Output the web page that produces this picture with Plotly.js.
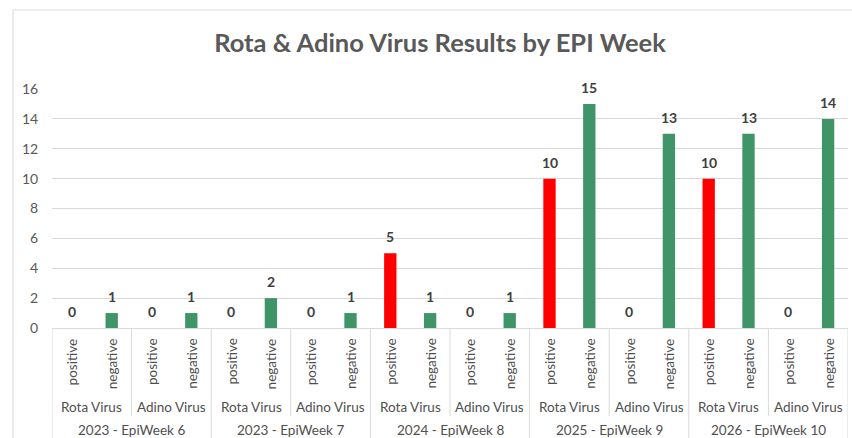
<!DOCTYPE html>
<html>
<head>
<meta charset="utf-8">
<script src="https://cdn.plot.ly/plotly-3.0.1.min.js"></script>
<style>html,body{margin:0;padding:0;background:#fff;}#chart{width:852px;height:438px;}</style>
</head>
<body>
<div id="chart"></div>
<script>
// ---- data ----
const weeks = ['2023 - EpiWeek 6', '2023 - EpiWeek 7', '2024 - EpiWeek 8', '2025 - EpiWeek 9', '2026 - EpiWeek 10'];
const viruses = ['Rota Virus', 'Adino Virus'];
const results = ['positive', 'negative'];
// values per (week, virus) group, in order: wk6 Rota, wk6 Adino, wk7 Rota, ...
const positiveCounts = [0, 0, 0, 0, 5, 0, 10, 0, 10, 0];
const negativeCounts = [1, 1, 2, 1, 1, 1, 15, 13, 13, 14];
const yTicks = [0, 2, 4, 6, 8, 10, 12, 14, 16];

// ---- layout helpers ----
const FONT = 'Lato, "Open Sans", sans-serif';
const PLOT_TOP = 89, PLOT_BOTTOM = 328, PLOT_H = PLOT_BOTTOM - PLOT_TOP;
const pyToPaper = py => (PLOT_BOTTOM - py) / PLOT_H;

const nGroups = weeks.length * viruses.length;
const posX = [], negX = [];
for (let g = 0; g < nGroups; g++) { posX.push(2 * g); negX.push(2 * g + 1); }

const traces = [
  {type: 'bar', x: posX, y: positiveCounts, name: results[0], width: 0.31,
   marker: {color: '#FF0000'}, hoverinfo: 'y'},
  {type: 'bar', x: negX, y: negativeCounts, name: results[1], width: 0.31,
   marker: {color: '#3F9468'}, hoverinfo: 'y'}
];

const annotations = [];
const shapes = [];
const gray = '#595959';
const labelGray = '#4F4F4F';
const lineCol = '#D9D9D9';

// data labels
function addLabels(xs, ys) {
  xs.forEach((x, i) => annotations.push({
    x: x, y: ys[i], xref: 'x', yref: 'y', text: String(ys[i]), showarrow: false,
    yanchor: 'bottom', yshift: 6, font: {family: FONT, size: 14, color: '#404040', weight: 700}
  }));
}
addLabels(posX, positiveCounts);
addLabels(negX, negativeCounts);

// category labels (3 levels)
for (let g = 0; g < nGroups; g++) {
  results.forEach((r, k) => annotations.push({
    x: 2 * g + k, y: pyToPaper(336), xref: 'x', yref: 'paper', text: r, showarrow: false,
    textangle: -90, yanchor: 'top', xanchor: 'center', font: {family: FONT, size: 13.5, color: labelGray}
  }));
  annotations.push({
    x: 2 * g + 0.5, y: pyToPaper(407), xref: 'x', yref: 'paper', text: viruses[g % viruses.length],
    showarrow: false, yanchor: 'middle', font: {family: FONT, size: 13.5, color: labelGray}
  });
}
weeks.forEach((w, i) => annotations.push({
  x: i * 4 + 1.5, y: pyToPaper(430), xref: 'x', yref: 'paper', text: w, showarrow: false,
  yanchor: 'middle', font: {family: FONT, size: 13.5, color: labelGray}
}));

// separators
for (let g = 0; g <= nGroups; g++) {
  const isWeek = g % viruses.length === 0;
  shapes.push({type: 'line', xref: 'x', yref: 'paper', x0: 2 * g - 0.5, x1: 2 * g - 0.5,
    y0: 0, y1: isWeek ? pyToPaper(460) : pyToPaper(416), line: {color: lineCol, width: 1}});
}
// chart frame
shapes.push({type: 'rect', xref: 'paper', yref: 'paper',
  x0: (13 - 52) / 796, x1: 1.1, y0: pyToPaper(470), y1: pyToPaper(10),
  line: {color: lineCol, width: 1}, fillcolor: 'rgba(0,0,0,0)', layer: 'below'});

const layout = {
  width: 852, height: 438,
  margin: {l: 52, r: 4, t: PLOT_TOP, b: 438 - PLOT_BOTTOM, pad: 0},
  paper_bgcolor: '#FFFFFF', plot_bgcolor: '#FFFFFF',
  showlegend: false, barmode: 'overlay',
  title: {text: 'Rota & Adino Virus Results by EPI Week', xref: 'container', x: 440 / 852,
    xanchor: 'center', yref: 'container', y: 1 - 43 / 438, yanchor: 'middle',
    font: {family: FONT, size: 25.5, color: gray, weight: 700}},
  xaxis: {range: [-0.5, 2 * nGroups - 0.5], showticklabels: false, ticks: '', showgrid: false,
    zeroline: false, showline: true, linecolor: lineCol, linewidth: 1, fixedrange: true},
  yaxis: {range: [0, 16], tickvals: yTicks, ticktext: yTicks.map(String), showgrid: true,
    gridcolor: lineCol, gridwidth: 1, zeroline: false, showline: false,
    ticks: 'outside', ticklen: 10, tickcolor: 'rgba(0,0,0,0)',
    tickfont: {family: FONT, size: 14, color: gray}, fixedrange: true},
  annotations: annotations,
  shapes: shapes
};

Plotly.newPlot('chart', traces, layout, {displayModeBar: false, staticPlot: true});
</script>
</body>
</html>
